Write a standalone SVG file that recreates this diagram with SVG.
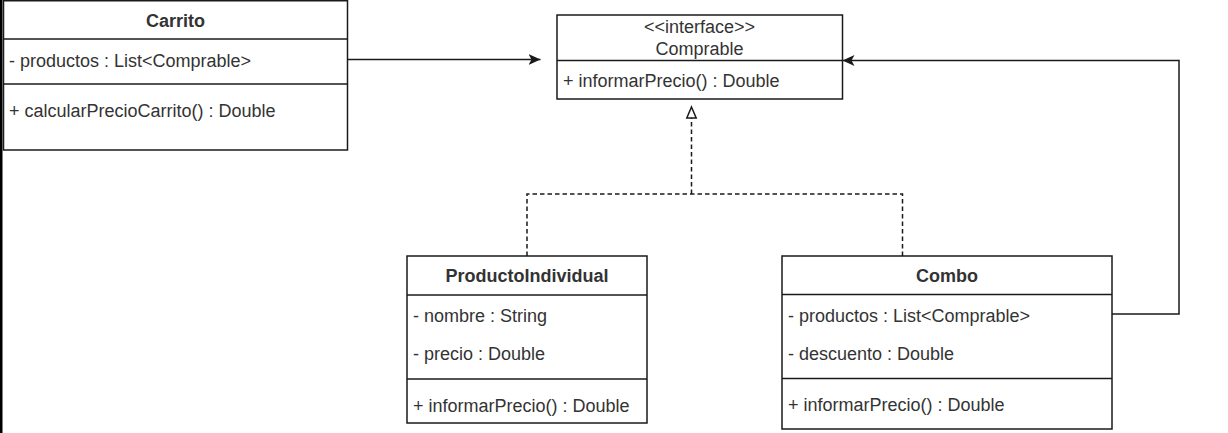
<svg xmlns="http://www.w3.org/2000/svg" width="1228" height="433" viewBox="0 0 1228 433">
<style>
.box{fill:#fff;stroke:#1a1a1a;stroke-width:1.5}
.div{stroke:#1a1a1a;stroke-width:1.5;fill:none}
.t{font-family:"Liberation Sans",Arial,sans-serif;font-size:18px;fill:#333}
.b{font-weight:bold;text-anchor:middle}
.c{text-anchor:middle}
.edge{stroke:#1a1a1a;stroke-width:1.5;fill:none}
.dash{stroke-dasharray:4.5 3}
</style>
<defs>
<marker id="arrow" viewBox="0 0 13 12" refX="12" refY="6" markerWidth="13" markerHeight="12" markerUnits="userSpaceOnUse" orient="auto">
<path d="M0,0.6 L12,6 L0,11.4 L3,6 Z" fill="#1a1a1a"/>
</marker>
</defs>
<rect x="0" y="0" width="2.5" height="433" fill="#000"/>
<g id="connectors">
<path class="edge" d="M348,59.5 L540.5,59.5" marker-end="url(#arrow)"/>
<path class="edge" d="M1112,314 L1179,314 L1179,60.5 L842.5,60.5" marker-end="url(#arrow)"/>
<path class="edge dash" d="M527,256 L527,194 L902.5,194 L902.5,256"/>
<path class="edge dash" d="M691.5,194 L691.5,118"/>
<path d="M691.5,107 L696.2,118 L686.8,118 Z" fill="#fff" stroke="#1a1a1a" stroke-width="1.5"/>
</g>
<g id="carrito">
<rect class="box" x="3.5" y="0.75" width="344" height="149.25"/>
<line class="div" x1="3.5" y1="39" x2="347.5" y2="39"/>
<line class="div" x1="3.5" y1="84" x2="347.5" y2="84"/>
<text class="t b" x="175.5" y="27">Carrito</text>
<text class="t" x="9" y="66.5">- productos : List&lt;Comprable&gt;</text>
<text class="t" x="9" y="117">+ calcularPrecioCarrito() : Double</text>
</g>
<g id="comprable">
<rect class="box" x="557" y="15" width="285.5" height="84"/>
<line class="div" x1="557" y1="60.5" x2="842.5" y2="60.5"/>
<text class="t c" x="699.5" y="33">&lt;&lt;interface&gt;&gt;</text>
<text class="t c" x="699.5" y="55">Comprable</text>
<text class="t" x="563" y="87">+ informarPrecio() : Double</text>
</g>
<g id="productoIndividual">
<rect class="box" x="407" y="256" width="240" height="167"/>
<line class="div" x1="407" y1="295" x2="647" y2="295"/>
<line class="div" x1="407" y1="379" x2="647" y2="379"/>
<text class="t b" x="527" y="282">ProductoIndividual</text>
<text class="t" x="413" y="321.5">- nombre : String</text>
<text class="t" x="413" y="360">- precio : Double</text>
<text class="t" x="413" y="411.5">+ informarPrecio() : Double</text>
</g>
<g id="combo">
<rect class="box" x="782" y="256" width="330" height="173"/>
<line class="div" x1="782" y1="294.5" x2="1112" y2="294.5"/>
<line class="div" x1="782" y1="378.5" x2="1112" y2="378.5"/>
<text class="t b" x="947" y="282.3">Combo</text>
<text class="t" x="788" y="321.7">- productos : List&lt;Comprable&gt;</text>
<text class="t" x="788" y="360">- descuento : Double</text>
<text class="t" x="788" y="410.7">+ informarPrecio() : Double</text>
</g>
</svg>
